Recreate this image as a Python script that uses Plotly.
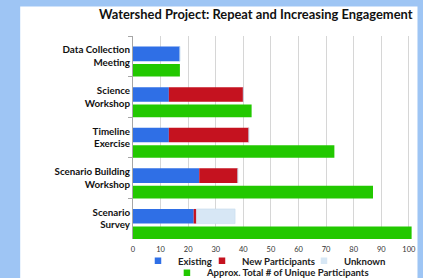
import plotly.graph_objects as go

categories = ["Data Collection<br>Meeting", "Science<br>Workshop", "Timeline<br>Exercise",
              "Scenario Building<br>Workshop", "Scenario<br>Survey"]
existing = [17, 13, 13, 24, 22]
new_participants = [0, 27, 29, 14, 1]
unknown = [0, 0, 0, 0, 14]
total_unique = [17, 43, 73, 87, 101]
x_ticks = [0, 10, 20, 30, 40, 50, 60, 70, 80, 90, 100]
series_names = ["Existing", "New Participants", "Unknown",
                "Approx. Total # of Unique Participants"]

W, H = 423, 278
ML, MR, MT, MB = 133, 9.5, 36, 39.3
PW, PH = W - ML - MR, H - MT - MB


def px_x(p):
    return (p - ML) / PW


def px_y(p):
    return (H - MB - p) / PH


FONT = "Lato"
BLUE = "#2f6fe6"
RED = "#c5121f"
LIGHT = "#d7e7f5"
GREEN = "#22c800"
colors = [BLUE, RED, LIGHT, GREEN]
legend_widths = [19, 57, None, None]

base_new = existing
base_unknown = [e + n for e, n in zip(existing, new_participants)]

fig = go.Figure()
fig.add_trace(go.Bar(y=categories, x=existing, orientation="h", name=series_names[0],
                     marker=dict(color=BLUE, line=dict(width=0)), legendgroup="g0",
                     showlegend=False, offset=-0.24, width=0.36))
fig.add_trace(go.Bar(y=categories, x=new_participants, base=base_new, orientation="h",
                     name=series_names[1], marker=dict(color=RED, line=dict(width=0)),
                     legendgroup="g1", showlegend=False, offset=-0.24, width=0.36))
fig.add_trace(go.Bar(y=categories, x=unknown, base=base_unknown, orientation="h",
                     name=series_names[2],
                     marker=dict(color=LIGHT, line=dict(width=0.6, color="#c6dcef")),
                     legendgroup="g2", showlegend=False, offset=-0.24, width=0.36))
fig.add_trace(go.Bar(y=categories, x=total_unique, orientation="h",
                     name=series_names[3], marker=dict(color=GREEN, line=dict(width=0)),
                     legendgroup="g3", showlegend=False,
                     offset=0.19, width=0.31, cliponaxis=False))

# legend entries (small square keys like the original)
for i, (nm, c) in enumerate(zip(series_names, colors)):
    kw = {}
    if legend_widths[i]:
        kw["legendwidth"] = legend_widths[i]
    fig.add_trace(go.Scatter(x=[None], y=[None], mode="markers", name=nm,
                             legendgroup=f"g{i}",
                             marker=dict(symbol="square", size=6.5, color=c,
                                         line=dict(width=0)),
                             legend="legend" if i < 3 else "legend2", **kw))

fig.add_shape(type="rect", xref="paper", yref="paper",
              x0=px_x(20), x1=px_x(418), y0=px_y(290), y1=px_y(6.5),
              fillcolor="white", line=dict(width=0), layer="below")

fig.add_annotation(text="<b>Watershed Project: Repeat and Increasing Engagement</b>",
                   xref="paper", yref="paper", x=px_x(256), y=px_y(14.5),
                   xanchor="center", yanchor="middle", showarrow=False,
                   font=dict(family=FONT, size=12.9, color="#111111"))

fig.update_layout(
    width=W, height=H,
    margin=dict(l=ML, r=MR, t=MT, b=MB, pad=0, autoexpand=False),
    paper_bgcolor="#9ec5f4",
    plot_bgcolor="white",
    barmode="overlay",
    font=dict(family=FONT, color="#222222"),
    xaxis=dict(range=[0, 101.5], tickvals=x_ticks, showgrid=True, gridcolor="#d6d6d6",
               gridwidth=1, zeroline=False, showline=False,
               ticks="outside", ticklen=3, tickcolor="rgba(0,0,0,0)",
               tickfont=dict(family=FONT, size=7.5, color="#333333"), fixedrange=True,
               automargin=False),
    yaxis=dict(autorange=False, range=[4.5, -0.5], type="category",
               showline=True, linecolor="#a6a6a6", linewidth=1,
               ticks="outside", tickson="boundaries", ticklen=4, tickcolor="#a6a6a6",
               tickfont=dict(family=FONT, size=9.8, color="#111111", weight="bold"),
               showgrid=False, fixedrange=True, automargin=False),
    legend=dict(orientation="h", x=px_x(138), y=px_y(260.5), xanchor="left",
                yanchor="middle", bgcolor="rgba(0,0,0,0)", itemwidth=30,
                font=dict(family=FONT, size=9.6, color="#222222", weight="bold")),
    legend2=dict(orientation="h", x=px_x(167), y=px_y(272.3), xanchor="left",
                 yanchor="middle", bgcolor="rgba(0,0,0,0)", itemwidth=30,
                 font=dict(family=FONT, size=9.6, color="#222222", weight="bold")),
    showlegend=True,
)

fig.write_html("out.html", config={"displayModeBar": False},
               post_script="document.body.style.margin='0';document.body.style.padding='0';")
